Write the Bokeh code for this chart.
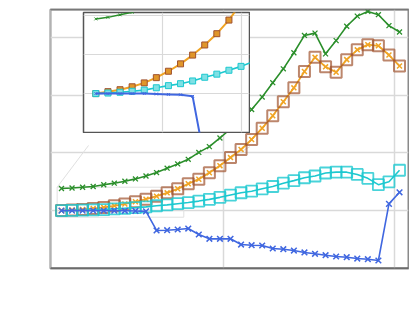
from bokeh.plotting import figure
from bokeh.models import Range1d, FixedTicker, Span
from bokeh.embed import file_html
from bokeh.resources import INLINE

# ---- data ----
steps = list(range(33))
green = [1.384, 1.392, 1.405, 1.418, 1.448, 1.476, 1.51, 1.55, 1.60, 1.66, 1.736,
         1.81, 1.89, 2.01, 2.11, 2.26, 2.42, 2.58, 2.755, 2.97, 3.22, 3.46, 3.74,
         4.04, 4.08, 3.72, 3.95, 4.20, 4.375, 4.457, 4.40, 4.21, 4.10]
orange = [1.0, 1.01, 1.02, 1.035, 1.055, 1.082, 1.115, 1.153, 1.198, 1.25, 1.308,
          1.378, 1.465, 1.545, 1.656, 1.78, 1.92, 2.06, 2.234, 2.43, 2.645, 2.89,
          3.13, 3.415, 3.66, 3.495, 3.40, 3.62, 3.79, 3.88, 3.86, 3.70, 3.51]
cyan = [1.0, 1.003, 1.007, 1.012, 1.018, 1.03, 1.041, 1.051, 1.065, 1.084, 1.10,
        1.12, 1.14, 1.165, 1.195, 1.23, 1.27, 1.31, 1.337, 1.378, 1.418, 1.476,
        1.52, 1.57, 1.60, 1.652, 1.667, 1.667, 1.627, 1.56, 1.45, 1.50, 1.70]
blue = [1.0, 1.0, 1.0, 1.0, 1.0, 0.998, 0.996, 0.994, 0.986, 0.655, 0.66, 0.672,
        0.688, 0.585, 0.51, 0.51, 0.51, 0.411, 0.399, 0.394, 0.342, 0.33, 0.307,
        0.273, 0.25, 0.226, 0.203, 0.191, 0.168, 0.156, 0.134, 1.116, 1.318]

main_x_ticks = [-1.0, 15.3, 31.55]
main_y_ticks = [1, 2, 3, 4]
inset_x_ticks = [5.5, 12.05]
inset_y_ticks = [1.0, 1.2, 1.4]

# zoom-indicator box and connectors (main coordinates)
box_x = [-0.41, 11.58]
box_y = [0.885, 1.406]
conn_x1 = [2.56, 17.83]
conn_y1 = [2.13, 2.11]

GREEN = "#2b8f2b"
ORANGE = "#f0a424"
BROWN = "#a0522d"
CYAN = "#1cc8cf"
BLUE = "#4067e0"
GRID = "#d9d9d9"

# ---- main plot ----
y_lo, y_hi = -0.005, 4.49
p = figure(width=409, height=270, x_range=Range1d(-1.04, 32.85),
           y_range=Range1d(y_lo, y_hi), x_axis_location=None, y_axis_location=None,
           toolbar_location=None, output_backend="svg",
           min_border_left=50, min_border_right=1, min_border_top=9, min_border_bottom=2)
p.outline_line_color = "#8a8a8a"
p.outline_line_width = 2
p.xgrid.ticker = FixedTicker(ticks=main_x_ticks)
p.ygrid.ticker = FixedTicker(ticks=main_y_ticks)
p.xgrid.grid_line_color = GRID
p.ygrid.grid_line_color = GRID
p.xgrid.grid_line_width = 1.5
p.ygrid.grid_line_width = 1.5
p.add_layout(Span(location=y_lo, dimension="width", line_color="#4d4d4d", line_width=2))
p.add_layout(Span(location=y_hi, dimension="width", line_color="#666666", line_width=1.5))

p.quad(left=box_x[0], right=box_x[1], bottom=box_y[0], top=box_y[1],
       fill_color=None, line_color="#e0e0e0", line_width=1)
p.segment(x0=[box_x[0], box_x[1]], y0=[box_y[1], box_y[1]], x1=conn_x1, y1=conn_y1,
          line_color="#e0e0e0", line_width=1)

p.line(steps, green, line_color=GREEN, line_width=1.6)
p.scatter(steps, green, marker="x", size=7, line_color=GREEN, line_width=1.3)

p.line(steps, orange, line_color=ORANGE, line_width=1.8)
p.scatter(steps, orange, marker="square", size=11, fill_color=None,
          line_color=BROWN, line_width=2, line_alpha=0.7)
p.scatter(steps, orange, marker="x", size=7, line_color=ORANGE, line_width=1.5)

p.line(steps, cyan, line_color=CYAN, line_width=1.6)
p.scatter(steps, cyan, marker="square", size=11, fill_color=None,
          line_color=CYAN, line_width=1.8, line_alpha=0.8)

p.line(steps, blue, line_color=BLUE, line_width=1.6)
p.scatter(steps, blue, marker="x", size=8, line_color=BLUE, line_width=1.5)

# ---- inset ----
q = figure(width=168, height=122, x_range=Range1d(-1.02, 12.7),
           y_range=Range1d(0.80, 1.417), x_axis_location=None, y_axis_location=None,
           toolbar_location=None, output_backend="svg",
           min_border_left=1, min_border_right=1, min_border_top=1, min_border_bottom=1,
           margin=(-259, 0, 0, 82))
q.outline_line_color = "#555555"
q.outline_line_width = 1.5
q.background_fill_color = "white"
q.border_fill_color = "white"
q.xgrid.ticker = FixedTicker(ticks=inset_x_ticks)
q.ygrid.ticker = FixedTicker(ticks=inset_y_ticks)
q.xgrid.grid_line_color = GRID
q.ygrid.grid_line_color = GRID
q.xgrid.grid_line_width = 1.2
q.ygrid.grid_line_width = 1.2

q.line(steps, green, line_color=GREEN, line_width=1.5)
q.scatter(steps, green, marker="x", size=4, line_color=GREEN, line_width=1)

q.line(steps, orange, line_color=ORANGE, line_width=2)
q.scatter(steps, orange, marker="square", size=6, fill_color="#e0962a",
          line_color=BROWN, line_width=1)

q.line(steps, cyan, line_color=CYAN, line_width=1.6)
q.scatter(steps, cyan, marker="square", size=6, fill_color="#7fe0e4",
          line_color=CYAN, line_width=1)

q.line(steps, blue, line_color=BLUE, line_width=2)
q.scatter(steps, blue, marker="x", size=4, line_color=BLUE, line_width=1)

open("out.html", "w").write(file_html([p, q], INLINE))
